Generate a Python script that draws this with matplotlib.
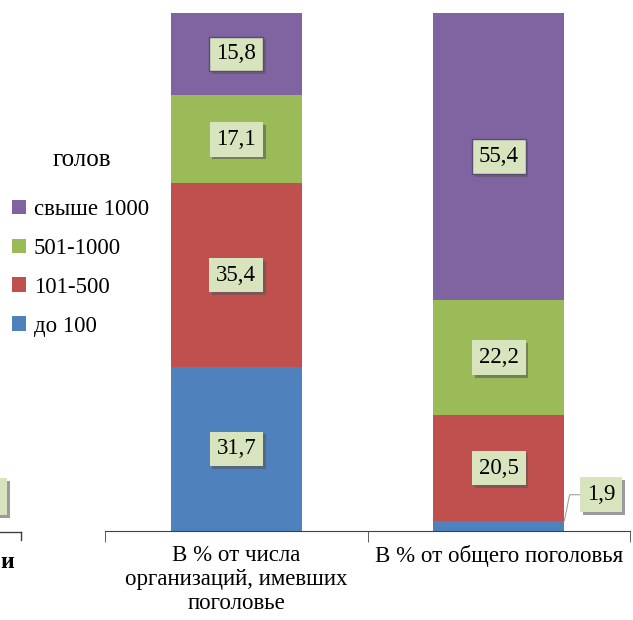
import matplotlib
matplotlib.use("Agg")
import matplotlib.pyplot as plt
from matplotlib.patches import Patch
import matplotlib.patheffects as pe

categories = ["В % от числа\nорганизаций, имевших\nпоголовье", "В % от общего поголовья"]
series_names = ["до 100", "101-500", "501-1000", "свыше 1000"]
values = {
    "до 100": [31.7, 1.9],
    "101-500": [35.4, 20.5],
    "501-1000": [17.1, 22.2],
    "свыше 1000": [15.8, 55.4],
}
colors = {"до 100": "#4F81BD", "101-500": "#C0504D", "501-1000": "#9BBB59", "свыше 1000": "#8064A2"}

FONT = "Liberation Serif"
plt.rcParams["font.family"] = [FONT, "DejaVu Serif"]

fig = plt.figure(figsize=(6.33, 6.2), dpi=100)
W, H = 633, 620
ax = fig.add_axes([105 / W, 1 - 531 / H, 525 / W, 518 / H])

x = list(range(len(categories)))
bottom = [0.0] * len(categories)
shadow = [pe.withSimplePatchShadow(offset=(2, -2), shadow_rgbFace="0.35", alpha=0.6)]

def fmt(v):
    return f"{v:.1f}".replace(".", ",")

LBL = 16.5
for name in series_names:
    vals = values[name]
    ax.bar(x, vals, width=0.5, bottom=bottom, color=colors[name], edgecolor="none", zorder=2)
    for i, v in enumerate(vals):
        cy = bottom[i] + v / 2
        if v < 5:
            tx, ty = i + 0.39, 7.0
            ax.plot([i + 0.25, i + 0.27, tx - 0.08], [v + 0.1, ty, ty], color="#A0A0A0", lw=0.8, zorder=3, clip_on=False)
            t = ax.text(tx, ty, fmt(v), ha="center", va="center", fontsize=LBL, zorder=5,
                        bbox=dict(boxstyle="square,pad=0.3", fc="#D7E4BD", ec="none"))
        else:
            t = ax.text(i, cy, fmt(v), ha="center", va="center", fontsize=LBL, zorder=5,
                        bbox=dict(boxstyle="square,pad=0.3", fc="#D7E4BD", ec="#5A4A78" if name == "свыше 1000" else "none", lw=1.0))
        t.get_bbox_patch().set_path_effects(shadow)
    bottom = [b + v for b, v in zip(bottom, vals)]

ax.set_xlim(-0.5, 1.5)
ax.set_ylim(0, 100)
for s in ["top", "right", "left"]:
    ax.spines[s].set_visible(False)
ax.spines["bottom"].set_color("#404040")
ax.set_yticks([])
ax.set_xticks(x)
ax.set_xticklabels(categories, fontsize=16.5, linespacing=1.2)
ax.tick_params(axis="x", which="major", length=0, pad=10)
ax.set_xticks([-0.5, 0.5, 1.5], minor=True)
ax.tick_params(axis="x", which="minor", length=8, direction="out", color="#404040")

# Fragment of neighbouring chart on the left
fig.add_artist(plt.Line2D([0, 21 / W], [1 - 532 / H, 1 - 532 / H], color="#404040", lw=1))
fig.add_artist(plt.Line2D([21 / W, 21 / W], [1 - 532 / H, 1 - 540 / H], color="#404040", lw=1))
fig.patches.append(plt.Rectangle((-10 / W, 1 - 515 / H), 17 / W, 37 / H, transform=fig.transFigure,
                                  fc="#D7E4BD", ec="none", path_effects=shadow))
fig.text(0, 1 - 563 / H, "и", fontsize=17, fontweight="bold", ha="left", va="center")

# Legend
fig.text(82 / W, 1 - 160 / H, "голов", fontsize=18, ha="center", va="center")
handles = [Patch(facecolor=colors[n], edgecolor="none") for n in reversed(series_names)]
fig.legend(handles, list(reversed(series_names)), loc="upper left", bbox_to_anchor=(12 / W, 1 - 199 / H),
           frameon=False, fontsize=16.5, handlelength=0.6, handleheight=0.6, handletextpad=0.35,
           labelspacing=0.78, borderaxespad=0, borderpad=0)

fig.savefig("out.png", dpi=100)
